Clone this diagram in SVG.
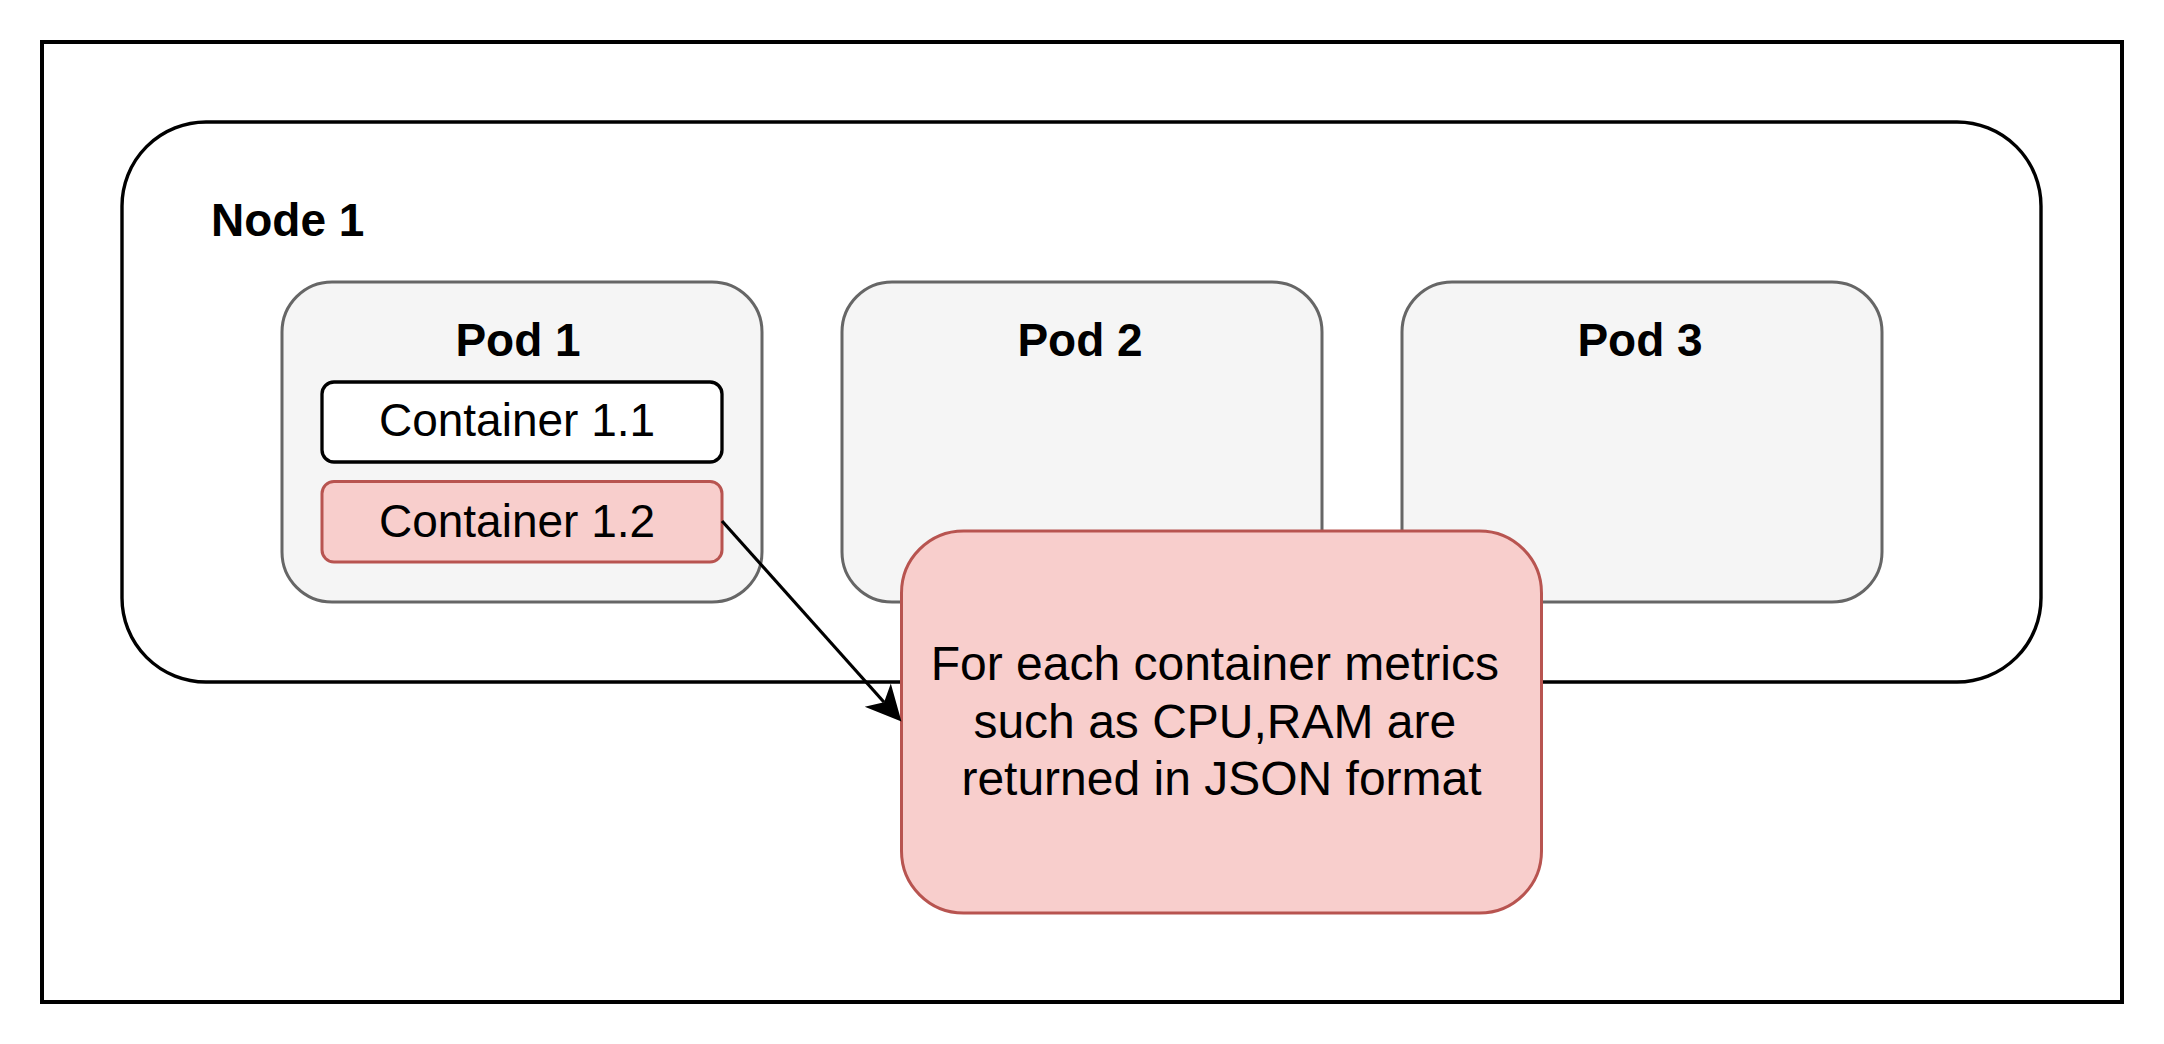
<svg xmlns="http://www.w3.org/2000/svg" width="2164" height="1044" viewBox="0 0 2164 1044">
  <style>
    .t { font-family: "Liberation Sans", Arial, Helvetica, sans-serif; fill: #000000; }
    .b { font-weight: bold; font-size: 46px; }
    .r { font-size: 46px; }
    .c { font-size: 48px; }
    .pod { fill: #f5f5f5; stroke: #666666; stroke-width: 3; }
    .red { fill: #f8cecc; stroke: #b85450; stroke-width: 3; }
    .wht { fill: #ffffff; stroke: #000000; stroke-width: 3.3; }
    .edge { fill: none; stroke: #000000; stroke-width: 3.2; }
  </style>
  <defs>
    <marker id="arrow" markerUnits="userSpaceOnUse" viewBox="-10 -18 37 36" markerWidth="37" markerHeight="36" refX="0" refY="0" orient="auto">
      <path d="M26,0 L-9.5,-17.5 L0,0 L-9.5,17.5 Z" fill="#000000"/>
    </marker>
  </defs>
  <rect x="0" y="0" width="2164" height="1044" fill="#ffffff"/>
  <g id="frame">
    <rect x="42" y="42" width="2080" height="960" fill="#ffffff" stroke="#000000" stroke-width="4"/>
  </g>
  <g id="node1">
    <rect x="122" y="122" width="1919" height="560" rx="84" ry="84" fill="#ffffff" stroke="#000000" stroke-width="3.4"/>
    <text class="t b" x="211" y="236">Node 1</text>
  </g>
  <g id="pod1">
    <rect class="pod" x="282" y="282" width="480" height="320" rx="50" ry="50"/>
    <text class="t b" x="518" y="356" text-anchor="middle">Pod 1</text>
  </g>
  <g id="pod2">
    <rect class="pod" x="842" y="282" width="480" height="320" rx="50" ry="50"/>
    <text class="t b" x="1080" y="356" text-anchor="middle">Pod 2</text>
  </g>
  <g id="pod3">
    <rect class="pod" x="1402" y="282" width="480" height="320" rx="50" ry="50"/>
    <text class="t b" x="1640" y="356" text-anchor="middle">Pod 3</text>
  </g>
  <g id="container11">
    <rect class="wht" x="322" y="382" width="400" height="80" rx="12" ry="12"/>
    <text class="t r" x="517" y="436" text-anchor="middle">Container 1.1</text>
  </g>
  <g id="container12">
    <rect class="red" x="322" y="481.5" width="400" height="80.5" rx="12" ry="12"/>
    <text class="t r" x="517" y="537" text-anchor="middle">Container 1.2</text>
  </g>
  <g id="callout">
    <rect class="red" x="901.5" y="531" width="640" height="382" rx="62" ry="62"/>
    <text class="t c" text-anchor="middle">
      <tspan x="1221.5" y="680">For each container metrics</tspan>
      <tspan x="1221.5" y="737.5">such as CPU,RAM are</tspan>
      <tspan x="1221.5" y="795">returned in JSON format</tspan>
    </text>
  </g>
  <g id="connectors">
    <path class="edge" d="M722,521 L884.1,702.2" marker-end="url(#arrow)"/>
  </g>
</svg>
